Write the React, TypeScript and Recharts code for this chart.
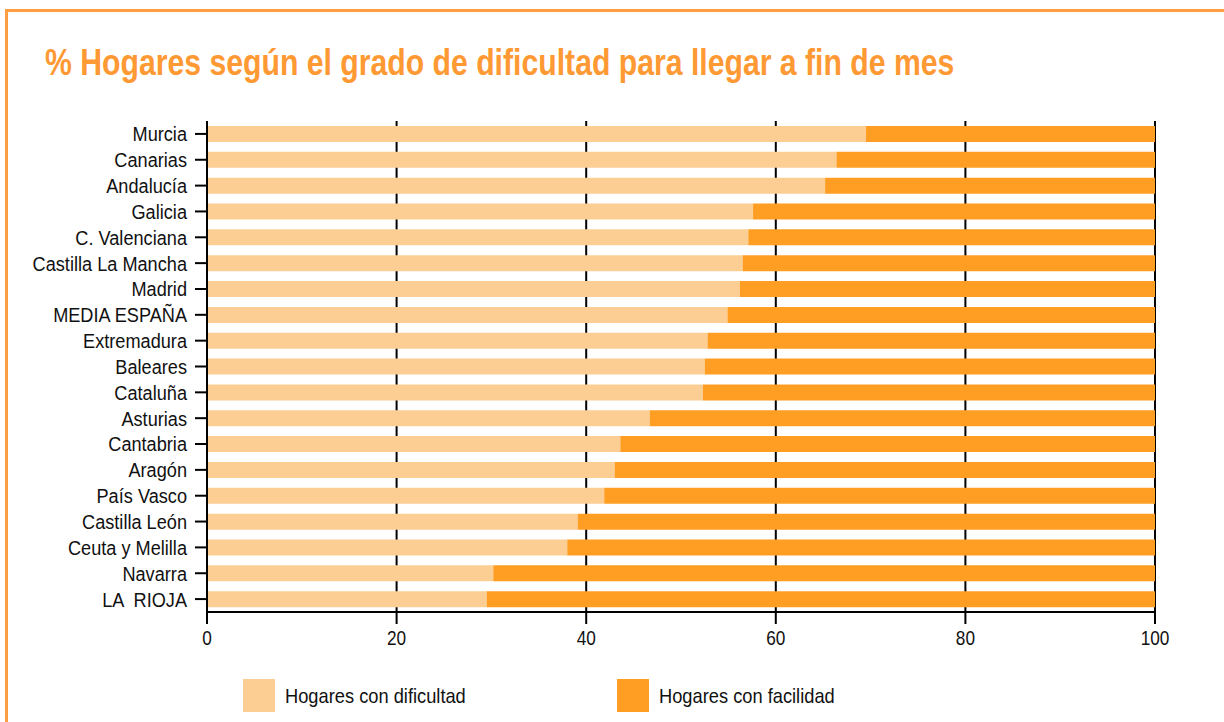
import React from 'react'
import { BarChart, Bar, XAxis, YAxis, CartesianGrid } from 'recharts'

const regions = [
  'Murcia', 'Canarias', 'Andalucía', 'Galicia', 'C. Valenciana', 'Castilla La Mancha',
  'Madrid', 'MEDIA ESPAÑA', 'Extremadura', 'Baleares', 'Cataluña', 'Asturias',
  'Cantabria', 'Aragón', 'País Vasco', 'Castilla León', 'Ceuta y Melilla', 'Navarra', 'LA  RIOJA',
]
const dificultad = [69.5, 66.4, 65.2, 57.6, 57.1, 56.5, 56.2, 54.9, 52.8, 52.5, 52.3, 46.7, 43.6, 43.0, 41.9, 39.1, 38.0, 30.2, 29.5]
const facilidad = [30.5, 33.6, 34.8, 42.4, 42.9, 43.5, 43.8, 45.1, 47.2, 47.5, 47.7, 53.3, 56.4, 57.0, 58.1, 60.9, 62.0, 69.8, 70.5]
const xTicks = [0, 20, 40, 60, 80, 100]

const series = [
  { key: 'dificultad', name: 'Hogares con dificultad', color: '#FDCE94' },
  { key: 'facilidad', name: 'Hogares con facilidad', color: '#FF9E23' },
]

const data = regions.map((region, i) => ({ region, dificultad: dificultad[i], facilidad: facilidad[i] }))

// no condensed font installed, so squeeze Liberation Sans horizontally
const FONT = "'Liberation Sans', Arial, sans-serif"
const FRAME = '#FF9E40'

const YTick = (props: any) => {
  const { x, y, payload } = props
  return (
    <g transform={`translate(${x},${y})`}>
      <text transform="scale(0.865,1)" textAnchor="end" dy="0.355em"
        style={{ fontSize: 21, fontFamily: FONT, fill: '#111', whiteSpace: 'pre' }}>
        {payload.value}
      </text>
    </g>
  )
}

const XTick = (props: any) => {
  const { x, y, payload } = props
  return (
    <g transform={`translate(${x},${y})`}>
      <text transform="scale(0.82,1)" textAnchor="middle" dy="0.71em"
        style={{ fontSize: 21, fontFamily: FONT, fill: '#111' }}>
        {payload.value}
      </text>
    </g>
  )
}

export default function App() {
  return (
    <div style={{ position: 'fixed', left: 0, top: 0, width: 1224, height: 722, overflow: 'hidden', background: '#fff', fontFamily: FONT }}>
      <div style={{
        position: 'absolute', left: 45, top: 44, fontSize: 37, lineHeight: '37px', fontWeight: 700, color: '#FF9933',
        whiteSpace: 'nowrap', transform: 'scaleX(0.816)', transformOrigin: 'left top',
      }}>
        % Hogares según el grado de dificultad para llegar a fin de mes
      </div>

      <div style={{ position: 'absolute', left: 0, top: 0 }}>
        <BarChart width={1224} height={722} layout="vertical" data={data}
          margin={{ top: 121, right: 69, bottom: 70, left: 0 }}>
          <CartesianGrid horizontal={false} stroke="#000" strokeWidth={2} />
          <XAxis type="number" domain={[0, 100]} ticks={xTicks} height={40}
            axisLine={{ stroke: '#000', strokeWidth: 2 }} tickLine={{ stroke: '#000', strokeWidth: 2 }}
            tickSize={12} tickMargin={6} tick={<XTick />} />
          <YAxis type="category" dataKey="region" width={207} interval={0}
            axisLine={{ stroke: '#000', strokeWidth: 2 }} tickLine={{ stroke: '#000', strokeWidth: 2 }}
            tickSize={12} tickMargin={8} tick={<YTick />} />
          {series.map(s => (
            <Bar key={s.key} dataKey={s.key} name={s.name} stackId="a" fill={s.color} barSize={16} isAnimationActive={false} />
          ))}
        </BarChart>
      </div>

      {/* legend */}
      {series.map((s, i) => (
        <div key={s.key} style={{ position: 'absolute', left: i === 0 ? 243 : 617, top: 679, display: 'flex', alignItems: 'center' }}>
          <div style={{ width: 32, height: 33, background: s.color }} />
          <span style={{
            marginLeft: 10, fontSize: 21, color: '#111', whiteSpace: 'nowrap',
            display: 'inline-block', transform: 'scaleX(0.87)', transformOrigin: 'left center',
          }}>{s.name}</span>
        </div>
      ))}

      {/* orange frame, only top and left edges are on the page */}
      <div style={{ position: 'absolute', zIndex: 5, left: 5, top: 9, width: 1219, height: 3, background: FRAME }} />
      <div style={{ position: 'absolute', zIndex: 5, left: 5, top: 9, width: 3, height: 713, background: FRAME }} />
    </div>
  )
}
